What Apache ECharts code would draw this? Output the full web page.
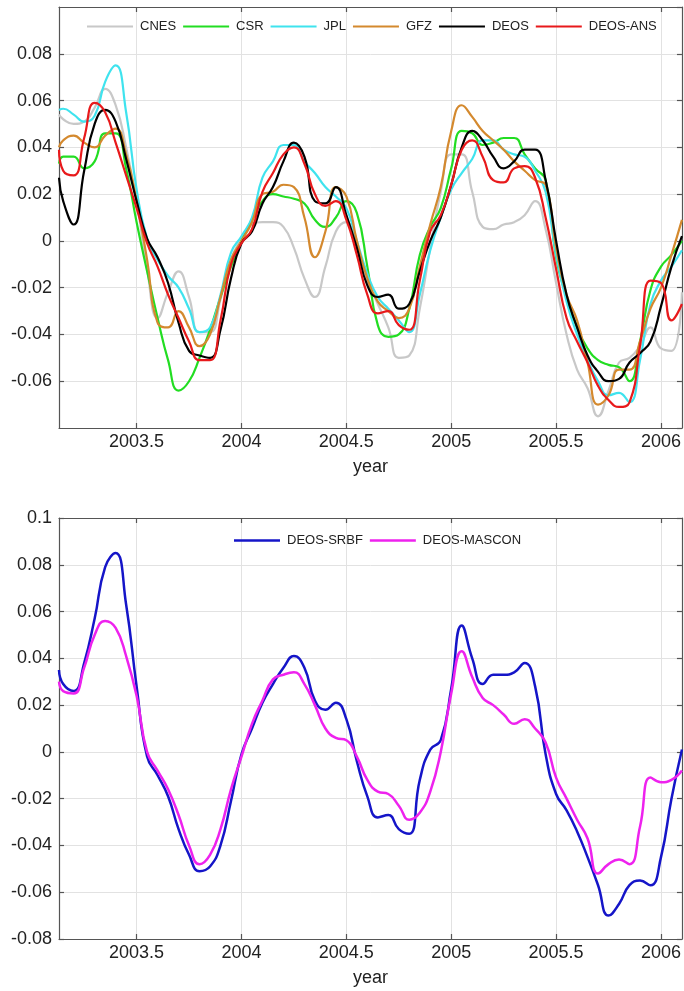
<!DOCTYPE html>
<html>
<head>
<meta charset="utf-8">
<script src="https://cdn.jsdelivr.net/npm/echarts@6/dist/echarts.min.js"></script>
<style>
html,body{margin:0;padding:0;background:#fff;}
#chart{width:684px;height:991px;}
</style>
</head>
<body>
<div id="chart"></div>
<script>
// ---- data ----
var years = [2003.13, 2003.15, 2003.2, 2003.25, 2003.3, 2003.35, 2003.4, 2003.45, 2003.5, 2003.55,
  2003.6, 2003.65, 2003.7, 2003.75, 2003.8, 2003.85, 2003.9, 2003.95, 2004, 2004.05,
  2004.1, 2004.15, 2004.2, 2004.25, 2004.3, 2004.35, 2004.4, 2004.45, 2004.5, 2004.55,
  2004.6, 2004.65, 2004.7, 2004.75, 2004.8, 2004.85, 2004.9, 2004.95, 2005, 2005.05,
  2005.1, 2005.15, 2005.2, 2005.25, 2005.3, 2005.35, 2005.4, 2005.45, 2005.5, 2005.55,
  2005.6, 2005.65, 2005.7, 2005.75, 2005.8, 2005.85, 2005.9, 2005.95, 2006, 2006.05, 2006.1];

var xTicks = [2003.5, 2004, 2004.5, 2005, 2005.5, 2006];

var cnes = [0.054, 0.052, 0.050, 0.051, 0.057, 0.065, 0.058, 0.040, 0.017, -0.012,
  -0.033, -0.022, -0.013, -0.024, -0.039, -0.039, -0.025, -0.008, 0.001, 0.007,
  0.008, 0.008, 0.006, -0.003, -0.016, -0.024, -0.011, 0.004, 0.008, -0.003,
  -0.017, -0.027, -0.037, -0.050, -0.049, -0.029, -0.003, 0.021, 0.037, 0.037,
  0.021, 0.006, 0.005, 0.007, 0.008, 0.011, 0.017, 0.005, -0.018, -0.040,
  -0.055, -0.063, -0.075, -0.064, -0.052, -0.050, -0.045, -0.037, -0.046, -0.047, -0.022];

var csr = [0.033, 0.036, 0.036, 0.031, 0.034, 0.046, 0.046, 0.031, 0.008, -0.013,
  -0.033, -0.051, -0.064, -0.060, -0.050, -0.038, -0.024, -0.011, 0.000, 0.009,
  0.017, 0.020, 0.019, 0.018, 0.016, 0.009, 0.006, 0.010, 0.017, 0.012,
  -0.011, -0.036, -0.041, -0.040, -0.029, -0.006, 0.006, 0.014, 0.031, 0.047,
  0.046, 0.041, 0.042, 0.044, 0.044, 0.037, 0.031, 0.026, -0.007, -0.024,
  -0.037, -0.046, -0.051, -0.053, -0.054, -0.060, -0.043, -0.021, -0.011, -0.006, 0.000];

var jpl = [0.056, 0.0565, 0.054, 0.051, 0.0535, 0.068, 0.075, 0.055, 0.022, 0.001,
  -0.008, -0.015, -0.020, -0.029, -0.039, -0.037, -0.023, -0.005, 0.002, 0.010,
  0.027, 0.034, 0.041, 0.041, 0.034, 0.029, 0.023, 0.019, 0.014, 0.000,
  -0.014, -0.024, -0.029, -0.034, -0.039, -0.023, -0.004, 0.010, 0.022, 0.029,
  0.035, 0.043, 0.043, 0.039, 0.037, 0.036, 0.030, 0.021, -0.006, -0.026,
  -0.040, -0.051, -0.060, -0.066, -0.065, -0.069, -0.051, -0.027, -0.017, -0.011, -0.004];

var gfz = [0.040, 0.043, 0.045, 0.042, 0.040, 0.045, 0.048, 0.037, 0.017, -0.008,
  -0.035, -0.037, -0.030, -0.037, -0.045, -0.040, -0.024, -0.008, 0.000, 0.008,
  0.020, 0.021, 0.024, 0.023, 0.010, -0.007, 0.004, 0.023, 0.019, 0.000,
  -0.016, -0.026, -0.030, -0.033, -0.029, -0.011, 0.007, 0.023, 0.047, 0.058,
  0.053, 0.047, 0.043, 0.039, 0.034, 0.030, 0.026, 0.024, -0.003, -0.023,
  -0.034, -0.052, -0.070, -0.066, -0.055, -0.055, -0.043, -0.029, -0.020, -0.006, 0.009];

var deos = [0.027, 0.017, 0.007, 0.030, 0.050, 0.056, 0.051, 0.035, 0.017, 0.001,
  -0.007, -0.018, -0.035, -0.047, -0.049, -0.050, -0.038, -0.016, -0.001, 0.004,
  0.016, 0.023, 0.034, 0.042, 0.036, 0.017, 0.016, 0.023, 0.011, -0.003,
  -0.019, -0.024, -0.023, -0.029, -0.027, -0.013, 0.000, 0.010, 0.024, 0.040,
  0.047, 0.043, 0.036, 0.031, 0.034, 0.039, 0.039, 0.026, 0.000, -0.023,
  -0.037, -0.049, -0.056, -0.060, -0.059, -0.052, -0.048, -0.043, -0.028, -0.011, 0.002];

var deosAns = [0.039, 0.030, 0.028, 0.044, 0.059, 0.055, 0.042, 0.028, 0.014, -0.001,
  -0.011, -0.023, -0.033, -0.043, -0.051, -0.051, -0.034, -0.010, -0.001, 0.005,
  0.021, 0.029, 0.037, 0.040, 0.033, 0.020, 0.015, 0.017, 0.009, -0.006,
  -0.023, -0.031, -0.030, -0.036, -0.038, -0.017, 0.004, 0.011, 0.024, 0.039,
  0.043, 0.036, 0.026, 0.025, 0.031, 0.032, 0.027, 0.010, -0.012, -0.033,
  -0.043, -0.052, -0.062, -0.068, -0.071, -0.069, -0.045, -0.017, -0.018, -0.034, -0.027];

var deosSrbf = [0.035, 0.029, 0.026, 0.038, 0.057, 0.079, 0.085, 0.063, 0.028, -0.002,
  -0.010, -0.019, -0.033, -0.044, -0.051, -0.049, -0.040, -0.021, -0.001, 0.010,
  0.021, 0.029, 0.036, 0.041, 0.036, 0.022, 0.018, 0.021, 0.014, -0.004,
  -0.019, -0.028, -0.027, -0.033, -0.035, -0.012, 0.001, 0.005, 0.027, 0.054,
  0.040, 0.029, 0.033, 0.033, 0.034, 0.038, 0.028, -0.001, -0.018, -0.025,
  -0.034, -0.045, -0.057, -0.070, -0.065, -0.057, -0.055, -0.057, -0.045, -0.020, 0.001];

var deosMascon = [0.030, 0.026, 0.025, 0.036, 0.050, 0.056, 0.053, 0.041, 0.024, 0.000,
  -0.008, -0.016, -0.027, -0.040, -0.048, -0.044, -0.033, -0.016, -0.002, 0.012,
  0.022, 0.031, 0.033, 0.034, 0.029, 0.020, 0.010, 0.006, 0.005, -0.002,
  -0.012, -0.017, -0.018, -0.023, -0.029, -0.026, -0.017, 0.000, 0.025, 0.043,
  0.032, 0.023, 0.020, 0.016, 0.012, 0.014, 0.010, 0.004, -0.011, -0.020,
  -0.029, -0.037, -0.052, -0.048, -0.046, -0.048, -0.032, -0.011, -0.013, -0.012, -0.008];

var topNames = ['CNES', 'CSR', 'JPL', 'GFZ', 'DEOS', 'DEOS-ANS'];
var topColors = ['#c8c8c8', '#22dd22', '#3fe3ee', '#d4892e', '#000000', '#e8191b'];
var topValues = [cnes, csr, jpl, gfz, deos, deosAns];
var botNames = ['DEOS-SRBF', 'DEOS-MASCON'];
var botColors = ['#1515c8', '#ee22ee'];
var botValues = [deosSrbf, deosMascon];

var xMin = 2003.13, xMax = 2006.1;

// ---- chart ----
var FONT = 'Liberation Sans, Arial, sans-serif';
function zip(v) { return years.map(function (y, i) { return [y, v[i]]; }); }
function xLabel(v) { return String(Math.round(v * 10) / 10); }
function yLabel(v) { return String(Math.round(v * 100) / 100); }
var axisLineStyle = { color: '#555', width: 1.2 };
var gridLine = { show: true, lineStyle: { color: '#e2e2e2', width: 1 } };

function mkX(gridIndex) {
  return [{
    type: 'value', gridIndex: gridIndex, min: xMin, max: xMax, position: 'bottom',
    name: 'year', nameLocation: 'middle', nameGap: 30,
    nameTextStyle: { fontFamily: FONT, fontSize: 18, color: '#222' },
    axisLine: { show: true, onZero: false, lineStyle: axisLineStyle },
    axisTick: { show: true, inside: true, length: 5, lineStyle: axisLineStyle, customValues: xTicks },
    axisLabel: { show: true, fontFamily: FONT, fontSize: 18, color: '#222', margin: 5, formatter: xLabel, customValues: xTicks },
    splitLine: gridLine
  }, {
    type: 'value', gridIndex: gridIndex, min: xMin, max: xMax, position: 'top',
    axisLine: { show: true, onZero: false, lineStyle: axisLineStyle },
    axisTick: { show: true, inside: true, length: 5, lineStyle: axisLineStyle, customValues: xTicks },
    axisLabel: { show: false, customValues: xTicks }, splitLine: { show: false }
  }];
}
function mkY(gridIndex, showEnds) {
  return [{
    type: 'value', gridIndex: gridIndex, min: -0.08, max: 0.1, interval: 0.02, position: 'left',
    axisLine: { show: true, onZero: false, lineStyle: axisLineStyle },
    axisTick: { show: true, inside: true, length: 5, lineStyle: axisLineStyle },
    axisLabel: { show: true, fontFamily: FONT, fontSize: 18, color: '#222', margin: 7, formatter: yLabel,
      showMinLabel: showEnds, showMaxLabel: showEnds },
    splitLine: gridLine
  }, {
    type: 'value', gridIndex: gridIndex, min: -0.08, max: 0.1, interval: 0.02, position: 'right',
    axisLine: { show: true, onZero: false, lineStyle: axisLineStyle },
    axisTick: { show: true, inside: true, length: 5, lineStyle: axisLineStyle },
    axisLabel: { show: false }, splitLine: { show: false }
  }];
}

var series = [];
topNames.forEach(function (n, i) {
  series.push({ name: n, type: 'line', xAxisIndex: 0, yAxisIndex: 0, data: zip(topValues[i]),
    smooth: 0.5, symbol: 'none', color: topColors[i], lineStyle: { width: 2.2, color: topColors[i] },
    z: 10 + i, clip: true });
});
botNames.forEach(function (n, i) {
  series.push({ name: n, type: 'line', xAxisIndex: 2, yAxisIndex: 2, data: zip(botValues[i]),
    smooth: 0.5, symbol: 'none', color: botColors[i], lineStyle: { width: 2.5, color: botColors[i] },
    z: 10 + i, clip: true });
});

var chart = echarts.init(document.getElementById('chart'), null, { renderer: 'canvas' });
chart.setOption({
  animation: false,
  backgroundColor: '#fff',
  grid: [
    { left: 59, right: 1, top: 7, height: 421 },
    { left: 59, right: 1, top: 518, height: 421 }
  ],
  legend: [
    { data: topNames, left: 82, top: 15, icon: 'rect', itemWidth: 46, itemHeight: 2.2, itemGap: 7,
      textStyle: { fontFamily: FONT, fontSize: 13, color: '#222', padding: [0, 0, 0, 2] } },
    { data: botNames, left: 229, top: 529, icon: 'rect', itemWidth: 46, itemHeight: 2.5, itemGap: 7,
      textStyle: { fontFamily: FONT, fontSize: 13, color: '#222', padding: [0, 0, 0, 2] } }
  ],
  xAxis: mkX(0).concat(mkX(1)),
  yAxis: mkY(0, false).concat(mkY(1, true)),
  series: series
});
</script>
</body>
</html>
